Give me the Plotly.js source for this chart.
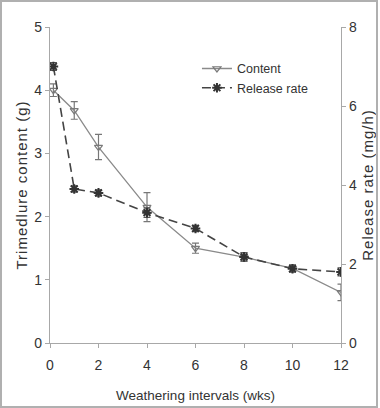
<!DOCTYPE html>
<html><head><meta charset="utf-8">
<script src="https://cdn.plot.ly/plotly-3.0.1.min.js"></script>
<style>
html,body{margin:0;padding:0;background:#fff;}
#frame{position:absolute;left:0;top:0;width:374px;height:404px;border:2px solid #b0b0b0;}
#chart{position:absolute;left:0;top:0;width:380px;height:408px;}
#chart .g-ytitle text, #chart .g-y2title text{letter-spacing:1px;}
</style></head>
<body>
<div id="chart"></div>
<div id="frame"></div>
<script>
const weeks = [0.14, 1, 2, 4, 6, 8, 10, 12];
const content = [4.0, 3.68, 3.1, 2.15, 1.5, 1.36, 1.18, 0.8];
const contentErr = [0.1, 0.14, 0.2, 0.23, 0.08, 0.07, 0.06, 0.13];
const releaseRate = [7.0, 3.9, 3.8, 3.3, 2.9, 2.18, 1.88, 1.8];
const releaseErr = [0.1, 0.08, 0.08, 0.12, 0.08, 0.1, 0.08, 0.1];
const xTicks = [0, 2, 4, 6, 8, 10, 12];

const regular = 'Liberation Sans, Arial, sans-serif';
const txt = '#333';

const traces = [
  {
    x: weeks, y: content, name: 'Content', type: 'scatter', mode: 'lines+markers',
    line: {color: '#8a8a8a', width: 1.3},
    marker: {symbol: 'triangle-down-open', size: 7, color: '#7a7a7a', line: {width: 1.2}},
    error_y: {type: 'data', array: contentErr, visible: true, color: '#777', thickness: 1.2, width: 3.5}
  },
  {
    x: weeks, y: releaseRate, name: 'Release rate', type: 'scatter', mode: 'lines+markers',
    yaxis: 'y2',
    line: {color: '#444', width: 1.6, dash: '9px,5px'},
    marker: {symbol: 'asterisk-open', size: 8, color: '#333', line: {width: 2, color: '#333'}},
    error_y: {type: 'data', array: releaseErr, visible: true, color: '#555', thickness: 1.2, width: 3.5}
  }
];

const tickFont = {family: regular, size: 14, color: txt};

const layout = {
  width: 380, height: 408,
  margin: {l: 50, r: 39, t: 27, b: 65},
  paper_bgcolor: '#fff', plot_bgcolor: '#fff',
  font: {family: regular, size: 12, color: txt},
  showlegend: true,
  legend: {x: 0.505, y: 0.915, xanchor: 'left', yanchor: 'top', bgcolor: 'rgba(0,0,0,0)',
           font: {family: regular, size: 12.5, color: txt}, tracegroupgap: 0, itemwidth: 30},
  xaxis: {
    range: [0, 12], tickvals: xTicks, ticktext: xTicks.map(String),
    showline: true, linecolor: '#a8a8a8', linewidth: 1.2, showgrid: false, zeroline: false,
    ticks: 'outside', ticklen: 4, tickcolor: '#a8a8a8', ticklabelstandoff: 5,
    tickfont: tickFont,
    title: {text: 'Weathering intervals (wks)', font: {family: regular, size: 13.5, color: txt}, standoff: 18}
  },
  yaxis: {
    range: [0, 5], dtick: 1, tick0: 0,
    showline: true, linecolor: '#a8a8a8', linewidth: 1.2, showgrid: false, zeroline: false,
    ticks: 'outside', ticklen: 4, tickcolor: '#a8a8a8',
    tickfont: tickFont,
    title: {text: 'Trimedlure content (g)', font: {family: regular, size: 15, color: txt}, standoff: 3}
  },
  yaxis2: {
    range: [0, 8], dtick: 2, tick0: 0, overlaying: 'y', side: 'right',
    showline: true, linecolor: '#a8a8a8', linewidth: 1.2, showgrid: false, zeroline: false,
    ticks: 'outside', ticklen: 4, tickcolor: '#a8a8a8',
    tickfont: tickFont,
    title: {text: 'Release rate (mg/h)', font: {family: regular, size: 15, color: txt}, standoff: 6}
  }
};

Plotly.newPlot('chart', traces, layout, {displayModeBar: false, staticPlot: true});
</script>
</body></html>
